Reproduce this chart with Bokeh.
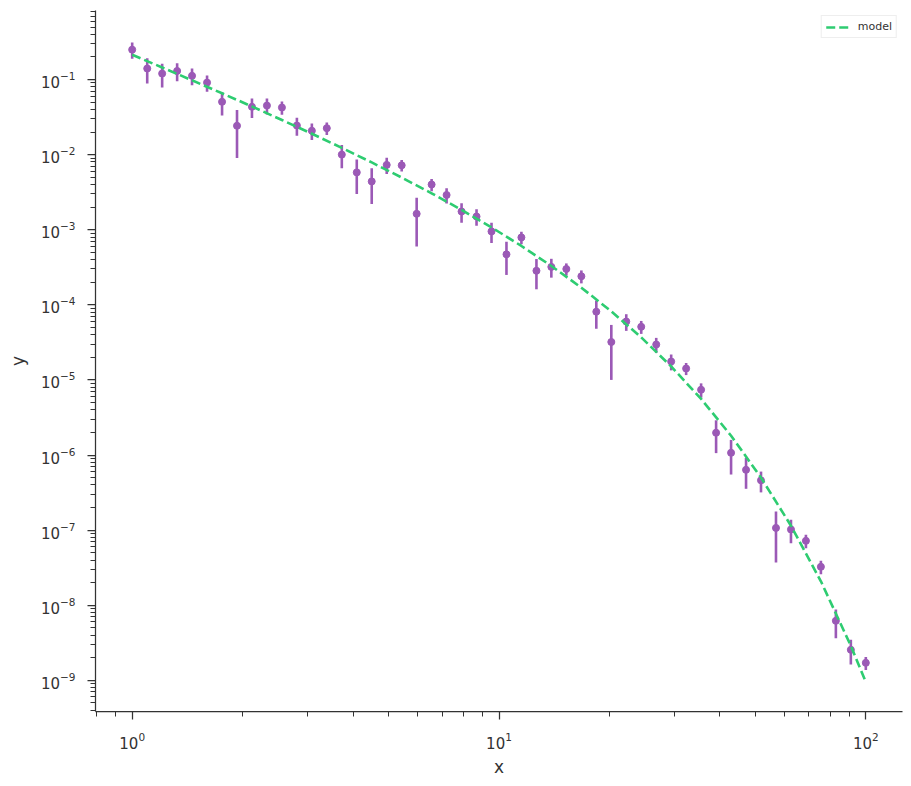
import numpy as np
from bokeh.plotting import figure
from bokeh.models import ColumnDataSource, FixedTicker, Range1d, Legend, LegendItem
from bokeh.embed import file_html
from bokeh.resources import INLINE

# ---- data ----
x_vals = [1.000, 1.099, 1.207, 1.326, 1.456, 1.600, 1.758, 1.931, 2.121, 2.330,
          2.560, 2.812, 3.089, 3.393, 3.728, 4.095, 4.498, 4.942, 5.429, 5.964,
          6.551, 7.197, 7.906, 8.685, 9.541, 10.48, 11.51, 12.65, 13.89, 15.26,
          16.77, 18.42, 20.24, 22.23, 24.42, 26.83, 29.47, 32.37, 35.56, 39.07,
          42.92, 47.15, 51.79, 56.90, 62.51, 68.66, 75.43, 82.86, 91.03, 100.0]

y_vals = [0.25, 0.14, 0.12, 0.13, 0.112, 0.091, 0.0505, 0.0242, 0.0433, 0.045,
          0.0424, 0.0244, 0.0208, 0.0225, 0.0100, 0.0058, 0.0044, 0.0073, 0.0072, 0.00163,
          0.0040, 0.0029, 0.00175, 0.0015, 0.00095, 0.00047, 0.00079, 0.000284, 0.00032, 0.0003,
          0.00024, 8.1e-5, 3.2e-5, 6.0e-5, 5.1e-5, 2.96e-5, 1.76e-5, 1.42e-5, 7.4e-6, 1.98e-6,
          1.07e-6, 6.35e-7, 4.6e-7, 1.07e-7, 1.02e-7, 7.2e-8, 3.25e-8, 6.2e-9, 2.55e-9, 1.71e-9]

y_err = [0.0607, 0.0514, 0.0418, 0.035, 0.0278, 0.0221, 0.0174, 0.0152, 0.0126, 0.0107,
         0.0084, 0.0065, 0.0052, 0.0043, 0.0034, 0.0028, 0.0022, 0.00176, 0.00126, 0.00103,
         0.00075, 0.00066, 0.00051, 0.00037, 0.000286, 0.00022, 0.00015, 0.000123, 0.00009, 0.000056,
         0.000047, 3.3e-5, 2.2e-5, 1.5e-5, 1.0e-5, 6.7e-6, 4.2e-6, 2.6e-6, 1.6e-6, 9.2e-7,
         5.2e-7, 2.8e-7, 1.42e-7, 7.0e-8, 3.5e-8, 1.46e-8, 6.6e-9, 2.56e-9, 9.2e-10, 3.4e-10]

model_x = [1.000, 1.207, 1.456, 1.758, 2.121, 2.560, 3.089, 3.728, 4.498, 5.429,
           6.551, 7.906, 9.541, 11.51, 13.89, 16.77, 20.24, 24.42, 29.47, 35.56,
           42.92, 51.79, 62.51, 75.43, 91.03, 100.0]
model_y = [0.2134, 0.1447, 0.09761, 0.06553, 0.04373, 0.02894, 0.01897, 0.01231, 0.007866, 0.004951,
           0.003053, 0.001838, 0.001075, 0.0006077, 0.0003292, 0.0001693, 8.19e-5, 3.681e-5, 1.513e-5, 5.585e-6,
           1.807e-6, 5.005e-7, 1.145e-7, 2.085e-8, 2.88e-9, 9.48e-10]

x_major = [1, 10, 100]
y_major = [10.0 ** e for e in range(-9, 0)]

# ---- styling ----
PURPLE = "#9b59b6"
GREEN = "#2ecc71"
INK = "#333333"
FONT = "DejaVu Sans"

ya = np.array(y_vals)
ea = np.array(y_err)
src = ColumnDataSource(dict(x=x_vals, y=y_vals, lo=list(ya - ea), hi=list(ya + ea)))
msrc = ColumnDataSource(dict(x=model_x, y=model_y))

p = figure(width=911, height=786, x_axis_type="log", y_axis_type="log",
           output_backend="svg", toolbar_location=None,
           x_range=Range1d(10 ** -0.1, 10 ** 2.1),
           y_range=Range1d(10 ** -9.415, 10 ** -0.081),
           min_border_left=95, min_border_right=9, min_border_top=10, min_border_bottom=75)

p.outline_line_color = None
p.xgrid.visible = False
p.ygrid.visible = False
p.background_fill_color = "white"
p.border_fill_color = "white"

p.segment(x0="x", y0="lo", x1="x", y1="hi", source=src, line_color=PURPLE, line_width=2.6)
p.scatter(x="x", y="y", source=src, size=7, fill_color=PURPLE, line_color=PURPLE)
r_model = p.line(x="x", y="y", source=msrc, line_color=GREEN, line_width=2.6, line_dash="9 4")

x_minor = [m * 10.0 ** e for e in range(-1, 3) for m in range(2, 10)]
y_minor = [m * 10.0 ** e for e in range(-10, 0) for m in range(2, 10)]
p.xaxis.ticker = FixedTicker(ticks=x_major, minor_ticks=x_minor)
p.yaxis.ticker = FixedTicker(ticks=y_major, minor_ticks=y_minor)

for ax in (p.xaxis, p.yaxis):
    ax.axis_line_color = INK
    ax.axis_line_width = 1.25
    ax.major_tick_line_color = INK
    ax.minor_tick_line_color = INK
    ax.major_tick_line_width = 1.25
    ax.minor_tick_line_width = 1.0
    ax.major_tick_in = 0
    ax.major_tick_out = 8
    ax.minor_tick_in = 0
    ax.minor_tick_out = 5
    ax.major_label_text_font = FONT
    ax.major_label_text_font_size = "15px"
    ax.major_label_text_color = INK
    ax.axis_label_text_font = FONT
    ax.axis_label_text_font_size = "17px"
    ax.axis_label_text_font_style = "normal"
    ax.axis_label_text_color = INK

p.xaxis.axis_label = "x"
p.yaxis.axis_label = "y"
p.xaxis.major_label_standoff = 12
p.yaxis.major_label_standoff = 12
p.xaxis.axis_label_standoff = 5
p.yaxis.axis_label_standoff = 10

legend = Legend(items=[LegendItem(label="model", renderers=[r_model])],
                location="top_right")
legend.label_text_font = FONT
legend.label_text_font_size = "11px"
legend.label_text_color = INK
legend.glyph_width = 24
legend.glyph_height = 12
legend.padding = 4
legend.margin = 5
legend.spacing = 0
legend.label_standoff = 8
legend.border_line_color = "#dddddd"
legend.border_line_width = 1
legend.background_fill_alpha = 0.8
p.add_layout(legend)

open("out.html", "w").write(file_html(p, INLINE))
